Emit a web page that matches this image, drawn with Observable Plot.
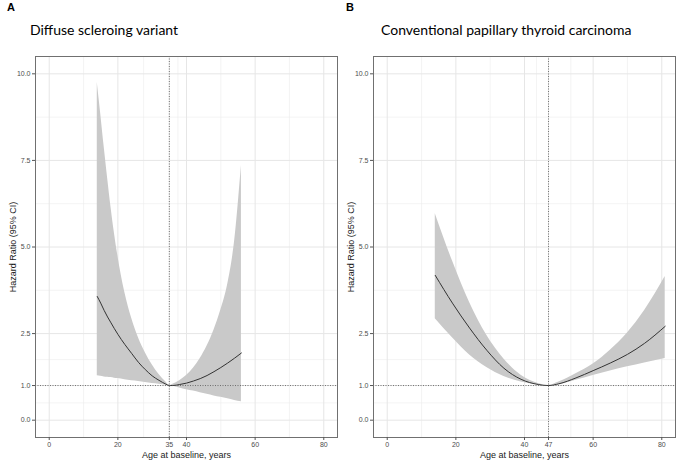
<!DOCTYPE html>
<html>
<head>
<meta charset="utf-8">
<script src="https://cdn.jsdelivr.net/npm/d3@7"></script>
<script src="https://cdn.jsdelivr.net/npm/@observablehq/plot@0.6"></script>
<style>
  html, body { margin: 0; padding: 0; background: #fff; }
  #wrap { position: relative; width: 679px; height: 465px; overflow: hidden; }
  .tag { position: absolute; font-family: "Liberation Sans", Arial, sans-serif; font-weight: bold; font-size: 11px; color: #000; }
  .ttl { position: absolute; font-family: Lato, "Open Sans", sans-serif; font-size: 14px; color: #000; white-space: nowrap; }
  .pan { position: absolute; top: 45px; }
</style>
</head>
<body>
<div id="wrap">
  <div class="tag" style="left:7px; top:1px;">A</div>
  <div class="ttl" style="left:30px; top:21px;">Diffuse scleroing variant</div>
  <div class="tag" style="left:346px; top:1px;">B</div>
  <div class="ttl" style="left:381px; top:21px;">Conventional papillary thyroid carcinoma</div>
  <div class="pan" id="pA" style="left:0px;"></div>
  <div class="pan" id="pB" style="left:339px;"></div>
</div>
<script>
// ---- Data ----
const yTicks = [0, 1, 2.5, 5, 7.5, 10];
const xTicksA = [0, 20, 35, 40, 60, 80];
const xTicksB = [0, 20, 40, 47, 60, 80];
const refAgeA = 35;
const refAgeB = 47;

// Panel A: Diffuse sclerosing variant
const ageA = [14,15,16,17,18,19,20,22,24,26,28,30,32,34,35,36,38,40,42,44,46,48,50,52,54,56];
const hrA  = [3.57,3.38,3.17,2.98,2.81,2.64,2.48,2.19,1.93,1.67,1.46,1.28,1.15,1.04,1.00,1.00,1.03,1.07,1.13,1.20,1.29,1.40,1.52,1.65,1.79,1.94];
const hiA  = [9.75,8.85,7.90,7.00,6.15,5.40,4.75,3.70,2.95,2.38,1.95,1.60,1.32,1.10,1.00,1.04,1.14,1.29,1.50,1.78,2.14,2.60,3.18,3.92,5.15,7.35];
const loA  = [1.28,1.27,1.25,1.24,1.23,1.21,1.20,1.17,1.14,1.12,1.09,1.06,1.04,1.01,1.00,0.98,0.93,0.88,0.84,0.79,0.75,0.70,0.66,0.62,0.57,0.53];

// Panel B: Conventional papillary thyroid carcinoma
const ageB = [14,19,24,29,34,39,44,47,50,55,60,65,70,75,81];
const hrB  = [4.18,3.38,2.66,2.02,1.50,1.18,1.03,1.00,1.05,1.22,1.43,1.65,1.90,2.22,2.71];
const hiB  = [5.96,4.60,3.40,2.45,1.77,1.30,1.06,1.00,1.10,1.34,1.62,2.02,2.52,3.17,4.15];
const loB  = [2.93,2.38,1.88,1.52,1.26,1.10,1.02,1.00,1.02,1.15,1.29,1.42,1.54,1.65,1.78];

const minors = t => d3.pairs(t, (a, b) => (a + b) / 2);

function panel({age, hr, hi, lo, xTicks, refAge, width, ml, mr}) {
  const rows = age.map((a, i) => ({age: a, hr: hr[i], hi: hi[i], lo: lo[i]}));
  return Plot.plot({
    width, height: 420,
    marginLeft: ml, marginRight: mr, marginTop: 11, marginBottom: 28,
    style: {fontFamily: "'Liberation Sans', Arial, sans-serif", background: "#fff", overflow: "visible"},
    x: {domain: [-4, 84]},
    y: {domain: [-0.5, 10.5]},
    marks: [
      Plot.gridX(minors(xTicks), {stroke: "#ececec", strokeOpacity: 1, strokeWidth: 0.6}),
      Plot.gridY(minors(yTicks), {stroke: "#ececec", strokeOpacity: 1, strokeWidth: 0.6}),
      Plot.gridX(xTicks, {stroke: "#e6e6e6", strokeOpacity: 1, strokeWidth: 1}),
      Plot.gridY(yTicks, {stroke: "#e6e6e6", strokeOpacity: 1, strokeWidth: 1}),
      Plot.areaY(rows, {x: "age", y1: "lo", y2: "hi", fill: "#c9c9c9", curve: "monotone-x"}),
      Plot.line(rows, {x: "age", y: "hr", stroke: "#333", strokeWidth: 1, curve: "monotone-x"}),
      Plot.ruleY([1], {stroke: "#555", strokeWidth: 0.8, strokeDasharray: "1,1.5"}),
      Plot.ruleX([refAge], {stroke: "#555", strokeWidth: 0.8, strokeDasharray: "1,1.5"}),
      Plot.frame({stroke: "#707070", strokeWidth: 1}),
      Plot.axisX({ticks: xTicks, tickFormat: d => String(d), tickSize: 3, tickPadding: 2,
        fontSize: 7, color: "#4d4d4d", stroke: "#555",
        label: "Age at baseline, years", labelAnchor: "center", labelArrow: "none", labelOffset: 20}),
      Plot.axisY({ticks: yTicks, tickFormat: d3.format(".1f"), tickSize: 3, tickPadding: 2,
        fontSize: 7, color: "#4d4d4d", stroke: "#555",
        label: "Hazard Ratio (95% CI)", labelAnchor: "center", labelArrow: "none", labelOffset: 26})
    ]
  });
}

document.getElementById("pA").append(panel({age: ageA, hr: hrA, hi: hiA, lo: loA, xTicks: xTicksA, refAge: refAgeA, width: 340, ml: 35, mr: 3}));
document.getElementById("pB").append(panel({age: ageB, hr: hrB, hi: hiB, lo: loB, xTicks: xTicksB, refAge: refAgeB, width: 340, ml: 34, mr: 4}));

// Axis title styling
document.querySelectorAll('g[aria-label="x-axis label"] text, g[aria-label="y-axis label"] text').forEach(t => {
  t.style.fontSize = "9px";
  t.style.fill = "#1a1a1a";
});
</script>
</body>
</html>
